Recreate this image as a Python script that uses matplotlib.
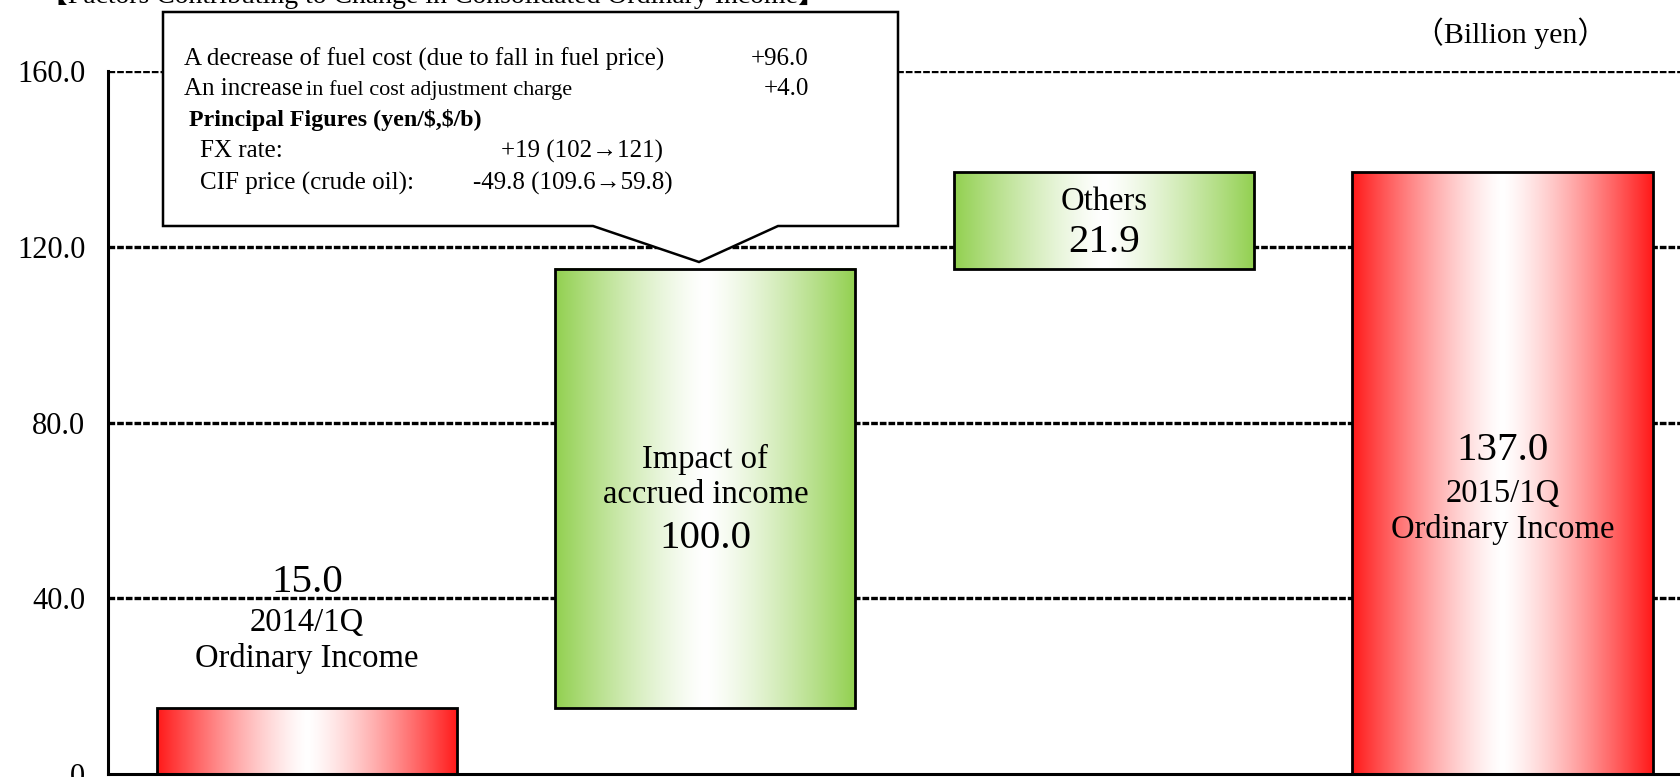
import numpy as np
import matplotlib.pyplot as plt
from matplotlib.patches import Rectangle, Polygon
from matplotlib.colors import to_rgb
from matplotlib.transforms import Affine2D

# waterfall data (billion yen)
labels = ['2014/1Q\nOrdinary Income', 'Impact of\naccrued income', 'Others', '2015/1Q\nOrdinary Income']
bottoms = [0.0, 15.0, 115.0, 0.0]
values = [15.0, 100.0, 21.9, 137.0]
kinds = ['total', 'change', 'change', 'total']
yticks = [0, 40, 80, 120, 160]
ytick_labels = ['0', '40.0', '80.0', '120.0', '160.0']

# callout contents
callout_rows = [
    ('A decrease of fuel cost (due to fall in fuel price)', '+96.0'),
    ('An increase', '+4.0'),
]
callout_small = 'in fuel cost adjustment charge'
callout_head = 'Principal Figures (yen/\\$,\\$/b)'
callout_figs = [('FX rate:', '+19 (102\u2192121)'),
                ('CIF price (crude oil):', '-49.8 (109.6\u219259.8)')]

W, H = 1681, 777
SERIF = ['Liberation Serif', 'DejaVu Serif']
SERIF_CJK = ['Liberation Serif', 'Noto Sans CJK JP']
plt.rcParams['font.family'] = SERIF

fig = plt.figure(figsize=(W / 100, H / 100), dpi=100)
ax = fig.add_axes([107.6 / W, 3 / H, 1 - 107.6 / W, (774 - 71) / H])
# reference-pixel transform for annotation layout
pix = Affine2D().scale(1 / W, -1 / H).translate(0, 1) + fig.transFigure

x = np.arange(len(values))
width = 0.753

for y in yticks[1:]:
    ax.axhline(y, color='black', lw=2.4, ls=(0, (2.0, 0.6)), zorder=1)


def gradient(edge, n=256):
    t = np.abs(np.linspace(-1, 1, n)) ** 1.3
    e = np.array(to_rgb(edge))
    return (1 - t)[:, None] * np.ones(3) + t[:, None] * e


colors = {'total': '#FF1A1A', 'change': '#92D050'}
for xi, b, v, k in zip(x, bottoms, values, kinds):
    img = gradient(colors[k])[None, :, :]
    ax.imshow(img, extent=[xi - width / 2, xi + width / 2, b, b + v],
              aspect='auto', interpolation='bilinear', zorder=2)
    ax.add_patch(Rectangle((xi - width / 2, b), width, v, fill=False,
                           ec='black', lw=2, zorder=3))
ax.set_xlim(-0.5, 3.448)
ax.set_ylim(0, 160)

# bar labels
big, small = 29.5, 23.5
ax.text(x[0], 43.6, f'{values[0]:.1f}', ha='center', va='center', fontsize=big)
ax.text(x[0], 30.3, labels[0], ha='center', va='center', fontsize=small, linespacing=1.2)
ax.text(x[1], 67.6, labels[1], ha='center', va='center', fontsize=small, linespacing=1.2)
ax.text(x[1], 53.7, f'{values[1]:.1f}', ha='center', va='center', fontsize=big)
ax.text(x[2], 130.2, labels[2], ha='center', va='center', fontsize=small)
ax.text(x[2], 121.0, f'{values[2]:.1f}', ha='center', va='center', fontsize=big)
ax.text(x[3], 73.6, f'{values[3]:.1f}', ha='center', va='center', fontsize=big)
ax.text(x[3], 59.6, labels[3], ha='center', va='center', fontsize=small, linespacing=1.2)

ax.set_xticks([])
ax.set_yticks(yticks)
ax.set_yticklabels(ytick_labels)
ax.tick_params(axis='y', length=0, pad=16, labelsize=22)
for s in ['top', 'right']:
    ax.spines[s].set_visible(False)
for s in ['left', 'bottom']:
    ax.spines[s].set_linewidth(2.2)
    ax.spines[s].set_zorder(5)

# callout box with pointer to the accrued income bar
box = [(163, 12), (898, 12), (898, 226), (778, 226), (699, 262), (593, 226), (163, 226)]
fig.patches.append(Polygon(box, closed=True, fc='white', ec='black', lw=1.8,
                           transform=pix, zorder=10))
fs = 18
fig.text(184, 59, callout_rows[0][0], transform=pix, fontsize=fs, va='center', zorder=11)
fig.text(809, 59, callout_rows[0][1], transform=pix, fontsize=fs, va='center', ha='right', zorder=11)
fig.text(184, 89, callout_rows[1][0], transform=pix, fontsize=fs, va='center', zorder=11)
fig.text(306, 90, callout_small, transform=pix, fontsize=16, va='center', zorder=11)
fig.text(809, 89, callout_rows[1][1], transform=pix, fontsize=fs, va='center', ha='right', zorder=11)
fig.text(189, 120, callout_head, transform=pix, fontsize=17.3, va='center', weight='bold', zorder=11)
fig.text(200, 151, callout_figs[0][0], transform=pix, fontsize=fs, va='center', zorder=11)
fig.text(501, 151, callout_figs[0][1], transform=pix, fontsize=fs, va='center', zorder=11)
fig.text(200, 183, callout_figs[1][0], transform=pix, fontsize=fs, va='center', zorder=11)
fig.text(473, 183, callout_figs[1][1], transform=pix, fontsize=fs, va='center', zorder=11)

# unit and (clipped) title
fig.text(1414, 33, '\uff08Billion yen\uff09', transform=pix, fontsize=21.5,
         va='center', family=SERIF_CJK)
fig.text(40, 3, '\u3010Factors Contributing to Change in Consolidated Ordinary Income\u3011',
         transform=pix, fontsize=20, va='baseline', family=SERIF_CJK)

fig.savefig('out.png', dpi=100)
